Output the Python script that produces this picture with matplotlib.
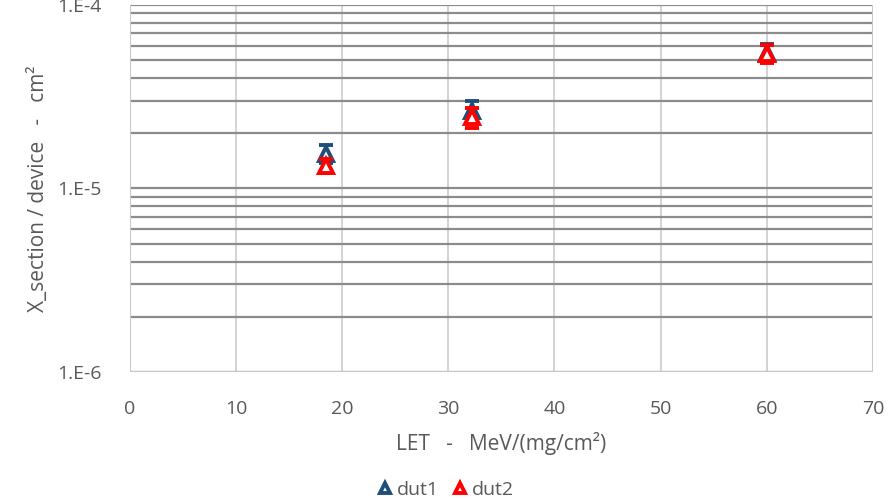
import numpy as np
import matplotlib.pyplot as plt
from matplotlib.ticker import FixedLocator, NullFormatter

plt.rcParams['font.family'] = ['Open Sans', 'DejaVu Sans']

let = [18.5, 32.2, 60.0]
dut1 = [1.55e-5, 2.66e-5, 5.5e-5]
dut1_err = [0.17e-5, 0.35e-5, 0.6e-5]
dut2 = [1.33e-5, 2.44e-5, 5.44e-5]
dut2_err = [0.12e-5, 0.3e-5, 0.6e-5]

txt = '#595959'
fig = plt.figure(figsize=(8.89, 4.99), dpi=100)
ax = fig.add_axes([0.146, 0.2545, 0.836, 0.7355])

ax.set_yscale('log')
ax.set_xlim(0, 70)
ax.set_ylim(1e-6, 1e-4)
ax.set_xticks(np.arange(0, 71, 10))
ax.yaxis.set_major_locator(FixedLocator([1e-6, 1e-5, 1e-4]))
ax.yaxis.set_minor_locator(FixedLocator([m * d for d in (1e-6, 1e-5) for m in range(2, 10)]))
ax.yaxis.set_minor_formatter(NullFormatter())
ax.set_yticklabels(['1.E-6', '1.E-5', '1.E-4'])

ax.grid(axis='x', which='major', color='#d0d0d0', lw=1.3)
ax.grid(axis='y', which='both', color='#8c8c8c', lw=1.6)
ax.set_axisbelow(True)
for s in ax.spines.values():
    s.set_visible(False)
ax.axhline(1e-6, color='#c8c8c8', lw=1.5, zorder=1)
ax.axvline(0, color='#c8c8c8', lw=1.5, zorder=1)
ax.axvline(70, color='#c8c8c8', lw=1.5, zorder=1)
ax.tick_params(which='both', length=0, colors=txt, labelsize=14)
ax.tick_params(axis='x', pad=20)
ax.tick_params(axis='y', pad=20)

ax.errorbar(let, dut1, yerr=dut1_err, fmt='^', color='#1f4e79', mfc='white',
            mec='#1f4e79', ms=10, mew=2.8, elinewidth=2.2, capsize=5, capthick=2.2,
            label='dut1', zorder=3)
ax.errorbar(let, dut2, yerr=dut2_err, fmt='^', color='#ff0000', mfc='white',
            mec='#ff0000', ms=10, mew=2.8, elinewidth=2.2, capsize=5, capthick=2.2,
            label='dut2', zorder=4)

ax.set_xlabel('LET   -   MeV/(mg/cm²)', color=txt, fontsize=15, labelpad=10)
ax.set_ylabel('X_section / device   -   cm²', color=txt, fontsize=15, labelpad=6)

h, l = ax.get_legend_handles_labels()
h = [x[0] for x in h]
fig.legend(h, l, loc='lower center', bbox_to_anchor=(0.5, -0.035), ncol=2,
           frameon=False, fontsize=14, handletextpad=0.1, columnspacing=0.6,
           handlelength=1.0, labelcolor=txt, markerscale=0.75)

fig.savefig('out.png', dpi=100)
